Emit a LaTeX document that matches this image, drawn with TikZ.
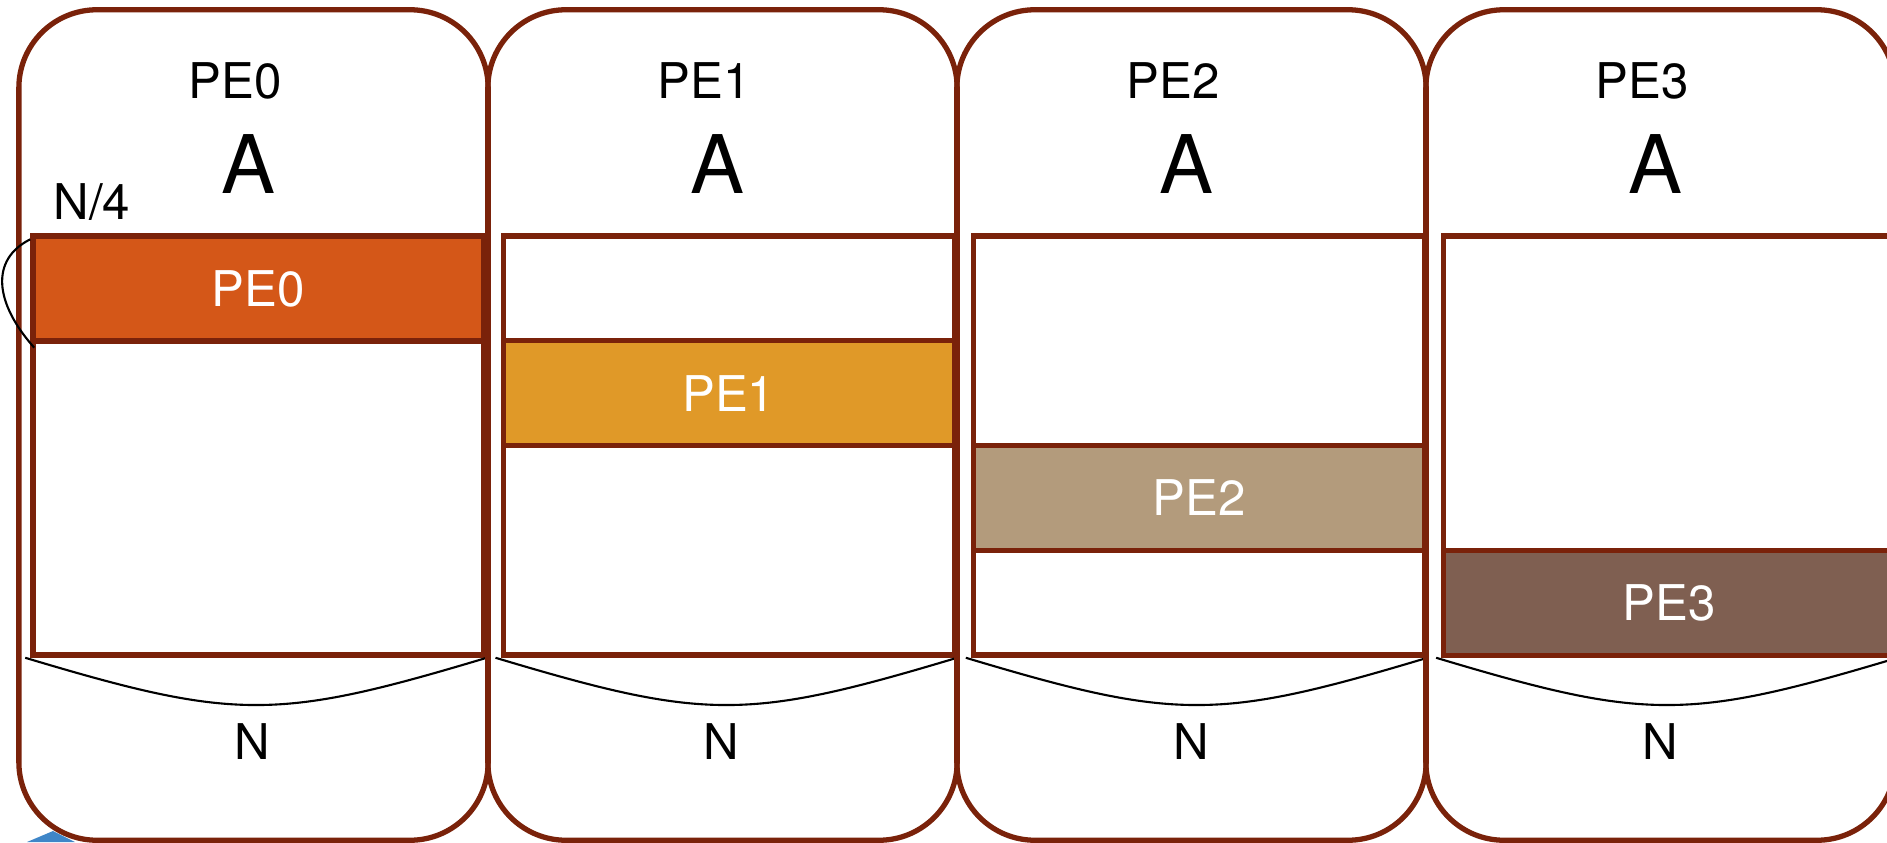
\documentclass[tikz,border=0pt]{standalone}
\usepackage{fontspec}
\setmainfont{TeX Gyre Heros}
\usetikzlibrary{positioning}
\definecolor{edge}{HTML}{7A220A}
\definecolor{pezero}{HTML}{D45718}
\definecolor{peone}{HTML}{E09928}
\definecolor{petwo}{HTML}{B39B7C}
\definecolor{pethree}{HTML}{7F5F51}
\definecolor{smudge}{HTML}{3F86C8}

\begin{document}
\begin{tikzpicture}[x=0.01cm,y=-0.01cm,
  pebox/.style={draw=edge,line width=1.5pt,rounded corners=0.78cm,minimum width=4.69cm,minimum height=8.3cm},
  matbox/.style={draw=edge,line width=1.5pt,minimum width=4.51cm,minimum height=4.19cm},
  band/.style={draw=edge,line width=1.5pt,minimum width=4.51cm,minimum height=1.05cm,text=white,font=\fontsize{14}{16}\selectfont},
  txt/.style={font=\fontsize{14}{16}\selectfont},
  big/.style={font=\fontsize{23}{26}\selectfont},
  brace/.style={black,line width=0.6pt}]
\useasboundingbox (0,0) rectangle (1887,842);
\clip (0,0) rectangle (1887,842);
\fill[smudge] (27,842) -- (53,831) -- (75,842) -- cycle;
\foreach \i/\col in {0/pezero,1/peone,2/petwo,3/pethree}{
  \node[pebox] (box\i) at (253.5+469*\i,425) {};
  \node[txt] (title\i) at (235+469*\i,81) {PE\i};
  \node[big] (a\i) at (248+469*\i,164) {A};
  \node[matbox] (mat\i) at (258.5+470.3*\i,445.5) {};
  \node[band,fill=\col] (band\i) at (258.5+470.3*\i,288.5+104.75*\i) {PE\i};
  \node[txt] (n\i) at (252+469.5*\i,742) {N};
  % brace under each matrix
  \draw[brace] ([xshift=-0.05cm]mat\i.south west) .. controls +(2.1cm,-0.63cm) and +(-2.1cm,-0.63cm) .. (mat\i.south east);
}
\node[txt] (quarter) at (92,202) {N/4};
\draw[brace] ([yshift=-0.06cm]band0.north west) .. controls +(-0.4cm,-0.2cm) and +(-0.4cm,0.45cm) .. ([xshift=0.04cm,yshift=-0.04cm]band0.south west);
\end{tikzpicture}
\end{document}
